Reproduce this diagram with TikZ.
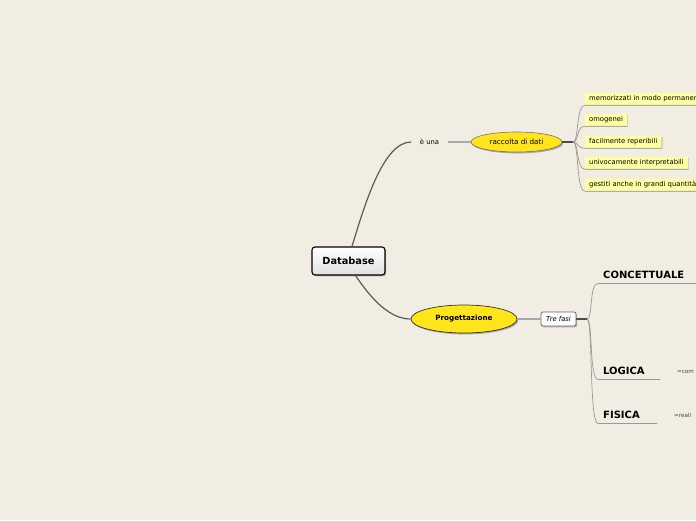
\documentclass[tikz,border=0pt]{standalone}
\usepackage{fontspec}
\setmainfont{DejaVu Sans}
\usetikzlibrary{shapes.geometric,calc}
\definecolor{bgc}{HTML}{F2EDE2}
\definecolor{ovalyellow}{HTML}{FFE51A}
\definecolor{itemyellow}{HTML}{FFFFA4}
\definecolor{itemshadow}{HTML}{D9D4B4}
\definecolor{darkline}{HTML}{5A5A5A}
\definecolor{lightline}{HTML}{A8A8A8}
\definecolor{midline}{HTML}{9A9A9A}
\tikzset{
  shadowed/.style={preaction={fill=#1, transform canvas={shift={(1.2pt,-1.4pt)}}}},
  itembox/.style={fill=itemyellow, shadowed=itemshadow, anchor=west, inner xsep=4pt, inner ysep=0pt,
    minimum height=12pt, text height=5pt, text depth=1.5pt, font=\fontsize{6.8}{8}\selectfont},
  oval/.style={ellipse, fill=ovalyellow, shadowed=black!35, inner sep=0pt},
  phase/.style={anchor=south west, inner xsep=5pt, inner ysep=0pt, text depth=5pt, align=left,
    font=\bfseries\fontsize{10}{12}\selectfont},
  darkconn/.style={draw=darkline, line width=1.2pt},
  lightconn/.style={draw=lightline, line width=1.3pt},
  branch/.style={draw=midline, line width=0.7pt},
  hubline/.style={draw=black!70, line width=1.5pt},
}
\begin{document}
\begin{tikzpicture}[x=1pt,y=-1pt]
\fill[bgc] (0,0) rectangle (696,520);
\useasboundingbox (0,0) rectangle (696,520);
\clip (0,0) rectangle (696,520);

% central node
\node[draw=black, line width=1.1pt, rounded corners=3pt, top color=white, bottom color=black!12,
  shadowed=black!30, minimum width=73pt, minimum height=28pt, inner sep=0pt,
  font=\bfseries\fontsize{9.8}{12}\selectfont] (db) at (348.5,261) {Database};

% upper branch
\node[inner xsep=8.5pt, inner ysep=2pt, font=\fontsize{6.8}{8}\selectfont] (euna) at (429.5,142) {è una};
\node[oval, draw=black!55, line width=0.6pt, minimum width=91pt, minimum height=20pt,
  font=\fontsize{7.2}{9}\selectfont] (racc) at (516.5,142) {raccolta di dati};
\coordinate (hubA) at (573,142);

\node[itembox] (i1) at (585,99) {memorizzati in modo permanente};
\node[itembox] (i2) at (585,120) {omogenei};
\node[itembox] (i3) at (585,142) {facilmente reperibili};
\node[itembox] (i4) at (585,163) {univocamente interpretabili};
\node[itembox] (i5) at (585,185) {gestiti anche in grandi quantità};

\draw[darkconn] (db.north) ++(3.5,0) .. controls (366,200) and (384,142) .. (euna.west);
\draw[lightconn] (euna.east) -- (racc.west);
\draw[hubline] (racc.east) -- (hubA);
\foreach \i in {i1,i2,i3,i4,i5}{
  \draw[branch] (hubA) .. controls +(6,0) and ($(\i.south west)+(-9,0)$) .. (\i.south west) -- (\i.south east);
}

% lower branch
\node[oval, draw=black!80, line width=0.7pt, minimum width=106pt, minimum height=28pt,
  font=\bfseries\fontsize{7.2}{9}\selectfont] (prog) at (464,319) {Progettazione};
\node[draw=black!60, line width=0.7pt, fill=white, shadowed=black!30, rounded corners=2pt,
  minimum width=35pt, minimum height=14pt, inner sep=0pt,
  font=\itshape\fontsize{6.8}{8}\selectfont] (tre) at (558.5,319) {Tre fasi};
\coordinate (hubB) at (587,319);

\draw[darkconn] (db.south) ++(7,0) .. controls (372,300) and (390,319) .. (prog.west);
\draw[lightconn] (prog.east) -- (tre.west);
\draw[hubline] (tre.east) -- (hubB);

\node[phase, text width=88pt] (conc) at (598,283.5) {CONCETTUALE};
\node[phase, text width=52pt] (logi) at (598,379.5) {LOGICA};
\node[phase, text width=49pt] (fisi) at (598,423.5) {FISICA};
\foreach \p in {conc,logi,fisi}{
  \draw[branch] (hubB) .. controls +(6,0) and ($(\p.south west)+(-9,0)$) .. (\p.south west) -- (\p.south east);
}

\node[anchor=west, inner sep=0pt, font=\fontsize{5.6}{7}\selectfont, text=black!75] (lc) at (677,371.5) {=com};
\node[anchor=west, inner sep=0pt, font=\fontsize{5.6}{7}\selectfont, text=black!75] (fc) at (674,415.5) {=reali};
\end{tikzpicture}
\end{document}
